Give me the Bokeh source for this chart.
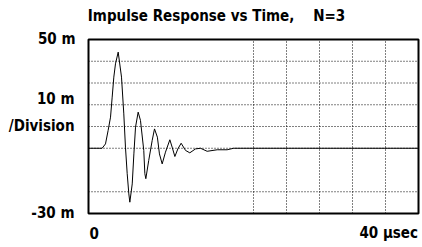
from bokeh.plotting import figure
from bokeh.models import Label, Range1d
from bokeh.embed import file_html
from bokeh.resources import INLINE

# waveform (time in usec, value in m-units)
t_us = [0, 1.65, 2.06, 2.38, 2.67, 2.87, 3.07, 3.27, 3.6, 4.0, 4.28, 4.48, 4.69, 4.89,
        5.01, 5.3, 5.5, 5.7, 6.02, 6.3, 6.7, 6.83, 6.95, 7.3, 7.72, 8.0, 8.35, 8.6,
        8.93, 9.33, 9.86, 10.14, 10.47, 10.83, 11.23, 11.76, 12.28, 12.97, 13.58,
        14.38, 15.6, 16.8, 17.6, 40]
resp = [0, 0, 2.0, 8.2, 14.3, 23.5, 32.7, 38.8, 44.2, 32.7, 15.8, 0.5, -11.7, -21.0,
        -24.8, -16.4, -2.6, 9.7, 16.6, 12.8, -1.0, -11.7, -14.0, -5.6, 3.6, 8.9, 5.1, -2.6,
        -7.2, -1.8, 3.9, 0.5, -3.8, -0.3, 2.3, -1.0, -2.1, -0.3, 0.0,
        -1.4, -0.7, -0.7, 0.0, 0.0]

h_grid = [40, 30, 20, 10, 0, -20]
v_grid = [20, 24, 28, 32, 36]
y_lim = (-30, 50)
x_lim = (0, 40)

title_text = "Impulse Response vs Time,\u00a0\u00a0\u00a0\u00a0N=3"
y_top_label = "50 m"
y_bot_label = "-30 m"
y_div_label = ["10 m", "/Division"]
x_left_label = "0"
x_right_label = "40 \u00b5sec"

FONT = "DejaVu Sans Condensed"

# layout (pixels)
W, H = 420, 245
FL, FR, FT, FB = 88, 418, 39, 213
sx = (FR - FL) / (x_lim[1] - x_lim[0])
sy = (FB - FT) / (y_lim[1] - y_lim[0])

p = figure(width=W, height=H, output_backend="svg", toolbar_location=None,
           x_range=Range1d(x_lim[0] - FL / sx, x_lim[1] + (W - FR) / sx),
           y_range=Range1d(y_lim[0] - (H - FB) / sy, y_lim[1] + FT / sy),
           x_axis_type=None, y_axis_type=None,
           min_border=0, min_border_left=0, min_border_right=0,
           min_border_top=0, min_border_bottom=0)
p.grid.visible = False
p.outline_line_color = None
p.background_fill_color = "white"
p.border_fill_color = "white"

nh = len(h_grid)
p.segment(x0=[x_lim[0]] * nh, x1=[x_lim[1]] * nh, y0=h_grid, y1=h_grid,
          line_color="black", line_width=1, line_dash="1 2")
nv = len(v_grid)
p.segment(x0=v_grid, x1=v_grid, y0=[y_lim[0]] * nv, y1=[y_lim[1]] * nv,
          line_color="black", line_width=1, line_dash="1 2")

p.line(t_us, resp, line_color="black", line_width=1)

p.quad(left=[x_lim[0]], right=[x_lim[1]], bottom=[y_lim[0]], top=[y_lim[1]],
       fill_color=None, line_color="black", line_width=2)

def px2x(px):
    return x_lim[0] + (px - FL) / sx

def px2y(py):
    return y_lim[1] - (py - FT) / sy

def lab(text, px, py, align, size="15px"):
    p.add_layout(Label(text=text, x=px2x(px), y=px2y(py),
                       text_align=align, text_baseline="middle",
                       text_font=FONT, text_font_style="bold",
                       text_font_size=size, text_color="black"))

lab(title_text, 216, 15, "center")
lab(y_top_label, 75, 38, "right")
lab(y_div_label[0], 74, 98, "right")
lab(y_div_label[1], 74, 125, "right")
lab(y_bot_label, 74, 212, "right")
lab(x_left_label, 89, 232, "left")
lab(x_right_label, 417.5, 232, "right")

open("out.html", "w").write(file_html(p, INLINE))
